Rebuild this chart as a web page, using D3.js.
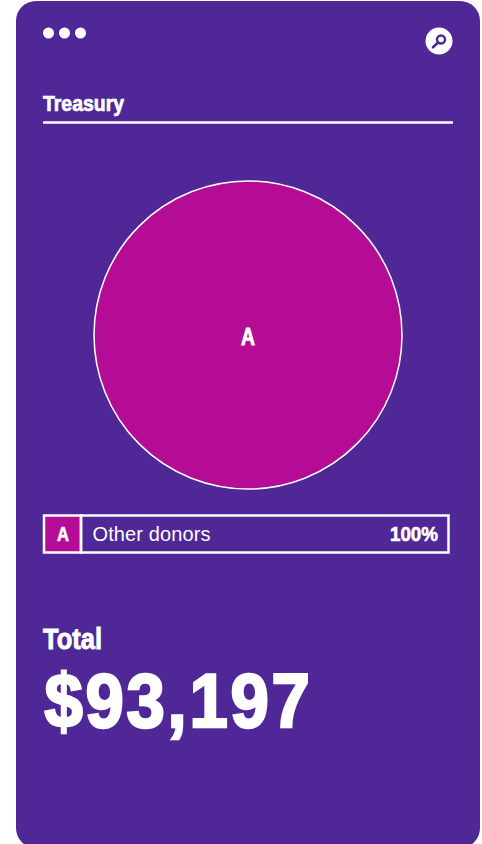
<!DOCTYPE html>
<html>
<head>
<meta charset="utf-8">
<script src="https://cdnjs.cloudflare.com/ajax/libs/d3/7.8.5/d3.min.js"></script>
<style>
  html, body { margin: 0; padding: 0; background: #fff; overflow: hidden; }
  text { fill: #fff; font-family: "Liberation Sans", sans-serif; }
  .narrow { font-weight: 700; }
</style>
</head>
<body>
<script>
const title = "Treasury";
const keys = ["A"];
const names = ["Other donors"];
const shares = [100];
const totalLabel = "Total";
const totalValue = 93197;

const purple = "#4f2796";
const magenta = "#b50c96";
const width = 482, height = 844;

const svg = d3.select("body").append("svg")
  .attr("width", width)
  .attr("height", height)
  .style("display", "block");

// squeezes a bold label to the condensed width of the original typeface
function squeezed(sel, length, stroke) {
  return sel.attr("class", "narrow")
    .attr("textLength", length)
    .attr("lengthAdjust", "spacingAndGlyphs")
    .attr("stroke", "#fff")
    .attr("stroke-width", stroke);
}

// card
svg.append("rect")
  .attr("x", 16).attr("y", 1)
  .attr("width", 464).attr("height", 847)
  .attr("rx", 20)
  .attr("fill", purple);

// menu dots
svg.append("g").selectAll("circle")
  .data([0, 1, 2])
  .join("circle")
  .attr("cx", i => 48.5 + i * 16)
  .attr("cy", 33)
  .attr("r", 5.5)
  .attr("fill", "#fff");

// search icon
const search = svg.append("g").attr("transform", "translate(439, 41)");
search.append("circle").attr("r", 13.5).attr("fill", "#fff");
search.append("circle").attr("cx", 2).attr("cy", -1.5).attr("r", 4)
  .attr("fill", "none").attr("stroke", purple).attr("stroke-width", 2.4);
search.append("line")
  .attr("x1", -1.2).attr("y1", 1.8).attr("x2", -6).attr("y2", 6.2)
  .attr("stroke", purple).attr("stroke-width", 2.6).attr("stroke-linecap", "round");

// header
svg.append("text")
  .attr("x", 43).attr("y", 111)
  .attr("font-size", 22)
  .text(title)
  .call(squeezed, 81, 0.7);
svg.append("line")
  .attr("x1", 43).attr("x2", 453).attr("y1", 122.5).attr("y2", 122.5)
  .attr("stroke", "#fff").attr("stroke-width", 2.5);

// pie
const pie = d3.pie().sort(null);
const arc = d3.arc().innerRadius(0).outerRadius(154);
const chart = svg.append("g").attr("transform", "translate(248, 335)");

chart.selectAll("path")
  .data(pie(shares))
  .join("path")
  .attr("d", arc)
  .attr("fill", magenta)
  .attr("stroke", "#fff")
  .attr("stroke-width", 1.5);

chart.selectAll("text")
  .data(pie(shares))
  .join("text")
  .attr("x", -7)
  .attr("y", 10)
  .attr("font-size", 23)
  .text((d, i) => keys[i])
  .call(squeezed, 14, 0.8);

// legend row
const row = svg.append("g").selectAll("g")
  .data(keys)
  .join("g")
  .attr("transform", (d, i) => `translate(0, ${i * 38})`);

row.append("rect")
  .attr("x", 44).attr("y", 515.5)
  .attr("width", 37).attr("height", 37)
  .attr("fill", magenta)
  .attr("stroke", "#fff").attr("stroke-width", 2.5);
row.append("rect")
  .attr("x", 81).attr("y", 515.5)
  .attr("width", 367.5).attr("height", 37)
  .attr("fill", "none")
  .attr("stroke", "#fff").attr("stroke-width", 2.5);
row.append("text")
  .attr("x", 57).attr("y", 541)
  .attr("font-size", 20)
  .text(d => d)
  .call(squeezed, 12, 0.6);
row.append("text")
  .attr("x", 92.5).attr("y", 541)
  .attr("font-size", 20)
  .attr("textLength", 118)
  .text((d, i) => names[i]);
row.append("text")
  .attr("x", 390).attr("y", 541)
  .attr("font-size", 20)
  .text((d, i) => shares[i] + "%")
  .call(squeezed, 48, 0.6);

// total
svg.append("text")
  .attr("x", 43).attr("y", 649)
  .attr("font-size", 29)
  .text(totalLabel)
  .call(squeezed, 59, 0.9);
svg.append("text")
  .attr("x", 44.5).attr("y", 727)
  .attr("font-size", 76)
  .attr("letter-spacing", 3)
  .text(d3.format("$,")(totalValue))
  .call(squeezed, 268, 2.6);
</script>
</body>
</html>
